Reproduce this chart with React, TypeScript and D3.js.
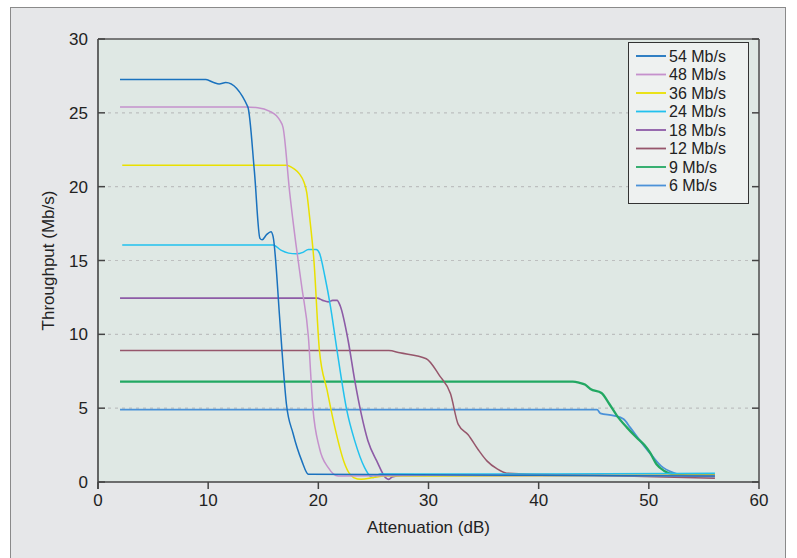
import React from "react";
import * as d3 from "d3";

const xTicks = [0, 10, 20, 30, 40, 50, 60];
const yTicks = [0, 5, 10, 15, 20, 25, 30];
const seriesNames = ["54 Mb/s", "48 Mb/s", "36 Mb/s", "24 Mb/s", "18 Mb/s", "12 Mb/s", "9 Mb/s", "6 Mb/s"];
const seriesColors = ["#1a72be", "#c591cc", "#e9e000", "#22c1ee", "#8d5ba6", "#96566b", "#22a862", "#4b92d8"];
const seriesWidths = [1.5, 1.5, 1.5, 1.5, 1.6, 1.5, 2.3, 1.8];

const s54 = [[2, 27.25], [9.8, 27.25], [10.5, 27.05], [11.0, 26.95], [11.6, 27.05], [13.6, 25.4], [14.2, 21], [14.7, 16.5], [14.9, 16.4], [15.3, 16.75], [15.7, 16.95], [15.9, 16.6], [16.5, 11], [16.7, 8.9], [17.1, 5.3], [17.7, 3.3], [18.5, 1.43], [19.1, 0.52], [25, 0.5], [40, 0.45], [56, 0.4]];
const s48 = [[2, 25.4], [13.3, 25.4], [14.5, 25.35], [15.6, 25.1], [16.2, 24.8], [16.5, 24.5], [16.8, 24.0], [17.4, 19.6], [17.95, 16.2], [18.5, 13.2], [19.1, 9.8], [19.5, 5.05], [20.1, 2.3], [20.9, 0.97], [21.8, 0.4], [30, 0.45], [56, 0.4]];
const s36 = [[2.2, 21.45], [17.1, 21.45], [17.8, 21.2], [18.3, 20.85], [18.7, 20.3], [18.95, 19.6], [19.2, 18], [19.6, 15], [20.1, 8.9], [20.8, 6.2], [21.5, 3.7], [22.3, 1.43], [22.8, 0.6], [23.2, 0.3], [23.9, 0.18], [25, 0.3], [26, 0.4], [56, 0.45]];
const s24 = [[2.2, 16.05], [15.9, 16.05], [16.6, 15.7], [17.3, 15.5], [18.0, 15.45], [18.6, 15.55], [19.1, 15.75], [19.8, 15.75], [20.1, 15.5], [20.6, 13.9], [21.1, 11.9], [21.7, 8.9], [22.6, 4.8], [23.3, 2.8], [24.2, 0.97], [24.7, 0.4], [25.0, 0.3], [25.6, 0.55], [40, 0.55], [56, 0.6]];
const s18 = [[2, 12.45], [19.9, 12.45], [20.4, 12.3], [20.9, 12.2], [21.3, 12.3], [21.7, 12.3], [22.0, 11.9], [22.7, 9.6], [23.3, 6.9], [23.9, 4.6], [24.5, 2.8], [25.3, 1.43], [26.1, 0.3], [26.4, 0.18], [26.7, 0.34], [27.5, 0.45], [56, 0.45]];
const s12 = [[2, 8.9], [26.4, 8.9], [27.4, 8.75], [29.8, 8.35], [31, 7.2], [32, 5.97], [32.7, 3.9], [33.6, 3.2], [34.5, 2.2], [35.3, 1.43], [36.2, 0.9], [37.1, 0.6], [45, 0.45], [56, 0.25]];
const s9 = [[2, 6.8], [43.1, 6.8], [43.7, 6.72], [44.2, 6.6], [44.7, 6.3], [45.7, 6.03], [46.4, 5.3], [47.1, 4.5], [48.0, 3.7], [48.9, 3.0], [49.6, 2.5], [50.1, 2.0], [50.7, 1.2], [51.4, 0.75], [52.2, 0.52], [53.5, 0.45], [56, 0.45]];
const s6 = [[2, 4.9], [45.3, 4.9], [45.6, 4.65], [46.8, 4.5], [47.7, 4.27], [48.3, 3.7], [49.2, 2.8], [50.3, 1.77], [51.1, 1.09], [52.2, 0.63], [53.7, 0.41], [56, 0.36]];
const seriesData = [s54, s48, s36, s24, s18, s12, s9, s6];

const W = 797, H = 558;
const L = 98, R = 759, T = 39, B = 482;
const FONT = "'Liberation Sans', Arial, sans-serif";

export default function App() {
  const x = d3.scaleLinear().domain([0, 60]).range([L, R]);
  const y = d3.scaleLinear().domain([0, 30]).range([B, T]);
  const line = d3.line<number[]>().x(d => x(d[0])).y(d => y(d[1])).curve(d3.curveMonotoneX);
  const legX = 628, legY = 42, legW = 120, legH = 161, legStep = 18.5;
  return (
    <svg width={W} height={H} style={{ position: "absolute", left: 0, top: 0 }} fontFamily={FONT}>
      <rect x={0} y={0} width={W} height={H} fill="#ffffff" />
      <rect x={10.5} y={7.5} width={775} height={570} fill="#e6e7e9" stroke="#8a8a8a" strokeWidth={1} />
      <rect x={L} y={T} width={R - L} height={B - T} fill="#dfe8e4" />
      {yTicks.filter(t => t > 0 && t < 30).map(t => (
        <line key={"g" + t} x1={L + 10} x2={R - 8} y1={y(t)} y2={y(t)} stroke="#bdbfbf" strokeWidth={1.2} strokeDasharray="3,4" />
      ))}
      <line x1={L} x2={R} y1={T} y2={T} stroke="#555" strokeWidth={1.6} />
      <line x1={R} x2={R} y1={T} y2={B} stroke="#555" strokeWidth={1.6} />
      {yTicks.map(t => (
        <g key={"yt" + t}>
          <line x1={L} x2={L + 7} y1={y(t)} y2={y(t)} stroke="#444" strokeWidth={1.5} />
          <line x1={R} x2={R - 7} y1={y(t)} y2={y(t)} stroke="#444" strokeWidth={1.5} />
          <text x={L - 10} y={y(t)} dy="0.36em" textAnchor="end" fontSize={17} fill="#222">{t}</text>
        </g>
      ))}
      {xTicks.map(t => (
        <g key={"xt" + t}>
          <line x1={x(t)} x2={x(t)} y1={B} y2={B + 7} stroke="#444" strokeWidth={1.5} />
          <text x={x(t)} y={B + 24} textAnchor="middle" fontSize={17} fill="#222">{t}</text>
        </g>
      ))}
      {seriesData.map((d, i) => i).reverse().map(i => (
        <path key={"s" + i} d={line(seriesData[i]) || ""} fill="none" stroke={seriesColors[i]} strokeWidth={seriesWidths[i]} strokeLinejoin="round" />
      ))}
      <line x1={L} x2={L} y1={T} y2={B + 7} stroke="#444" strokeWidth={1.6} />
      <line x1={L} x2={R} y1={B} y2={B} stroke="#444" strokeWidth={1.6} />
      <text x={(L + R) / 2} y={533} textAnchor="middle" fontSize={17} fill="#222">Attenuation (dB)</text>
      <text transform={`translate(54,${(T + B) / 2}) rotate(-90)`} textAnchor="middle" fontSize={17} fill="#222">Throughput (Mb/s)</text>
      <rect x={legX + 0.5} y={legY + 0.5} width={legW} height={legH} fill="#eef1f0" stroke="#333" strokeWidth={1} />
      {seriesNames.map((n, i) => (
        <g key={"l" + i}>
          <line x1={legX + 8} x2={legX + 38} y1={legY + 14 + i * legStep} y2={legY + 14 + i * legStep} stroke={seriesColors[i]} strokeWidth={1.8} />
          <text x={legX + 41} y={legY + 14 + i * legStep} dy="0.36em" fontSize={16} fill="#222">{n}</text>
        </g>
      ))}
    </svg>
  );
}
